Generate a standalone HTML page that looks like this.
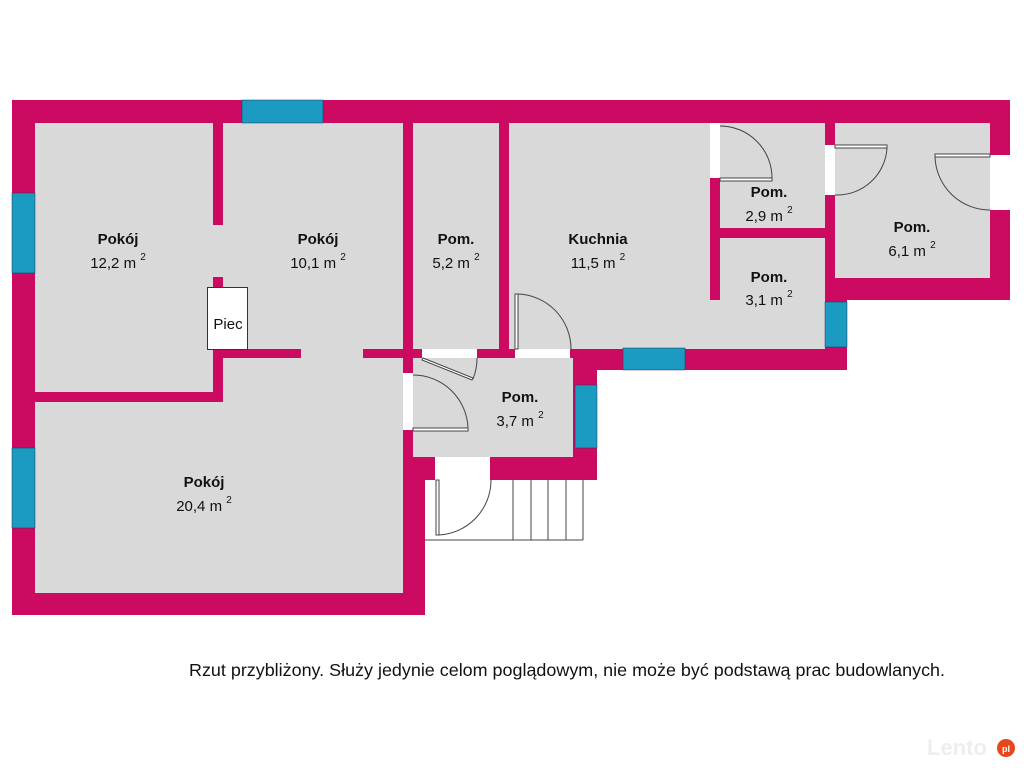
<!DOCTYPE html>
<html><head><meta charset="utf-8"><style>
html,body{margin:0;padding:0;background:#fff;}
svg text{font-family:"Liberation Sans",sans-serif;}
</style></head><body>
<svg width="1024" height="768" viewBox="0 0 1024 768" xmlns="http://www.w3.org/2000/svg">
<g fill="#cc0a62">
<rect x="12" y="100" width="998" height="23"/>
<rect x="825" y="100" width="185" height="200"/>
<rect x="12" y="100" width="23" height="515"/>
<rect x="12" y="593" width="413" height="22"/>
<rect x="403" y="100" width="22" height="515"/>
<rect x="403" y="100" width="194" height="380"/>
<rect x="403" y="100" width="444" height="270"/>
</g>
<g fill="#d9d9d9">
<rect x="35" y="123" width="368" height="470"/>
<rect x="413" y="123" width="86" height="226"/>
<rect x="509" y="123" width="316" height="226"/>
<rect x="835" y="123" width="155" height="155"/>
<rect x="413" y="358" width="160" height="99"/>
</g>
<g fill="#cc0a62">
<rect x="213" y="123" width="10" height="102"/>
<rect x="213" y="277" width="10" height="12"/>
<rect x="213" y="349" width="10" height="53"/>
<rect x="223" y="349" width="78" height="9"/>
<rect x="35" y="392" width="188" height="10"/>
<rect x="363" y="349" width="59" height="9"/>
<rect x="477" y="349" width="38" height="9"/>
<rect x="499" y="123" width="10" height="226"/>
<rect x="710" y="178" width="10" height="122"/>
<rect x="720" y="228" width="105" height="10"/>
<rect x="825" y="123" width="10" height="177"/>
<rect x="413" y="457" width="22" height="23"/>
<rect x="403" y="430" width="10" height="27"/>
<rect x="403" y="457" width="22" height="158"/>
</g>
<g fill="#fff">
<rect x="710" y="123" width="10" height="55"/>
<rect x="825" y="145" width="10" height="50"/>
<rect x="990" y="155" width="20" height="55"/>
<rect x="422" y="349" width="55" height="9"/>
<rect x="515" y="349" width="55" height="9"/>
<rect x="403" y="373" width="10" height="57"/>
<rect x="435" y="457" width="55" height="23"/>
<rect x="425" y="480" width="172" height="135"/>
<rect x="597" y="370" width="250" height="110"/>
</g>
<g fill="#1b9bc2" stroke="#235" stroke-width="0.5">
<rect x="242" y="100" width="81" height="23"/>
<rect x="12" y="193" width="23" height="80"/>
<rect x="12" y="448" width="23" height="80"/>
<rect x="623" y="348" width="62" height="22"/>
<rect x="575" y="385" width="22" height="63"/>
<rect x="825" y="302" width="22" height="45"/>
</g>
<g fill="none" stroke="#444" stroke-width="1">
<rect x="720" y="178" width="52" height="3" fill="#fff"/>
<path d="M720 126 A52 52 0 0 1 772 178"/>
<rect x="835" y="145" width="52" height="3" fill="#fff"/>
<path d="M887 148 A50 50 0 0 1 835 195"/>
<rect x="935" y="154" width="55" height="3" fill="#fff"/>
<path d="M935 157 A55 55 0 0 0 990 210"/>
<rect x="515" y="294" width="3" height="55" fill="#fff"/>
<path d="M518 294 A55 55 0 0 1 571 349"/>
<rect x="413" y="428" width="55" height="3" fill="#fff"/>
<path d="M413 375 A55 55 0 0 1 468 428"/>
<path d="M423 358 L473 378 L472 380 L422 360 Z" fill="#fff"/>
<path d="M477 358 A55 55 0 0 1 473 379"/>
<rect x="436" y="480" width="3" height="55" fill="#fff"/>
<path d="M439 535 A55 55 0 0 0 491 480"/>
<path d="M425 540 L583 540 M513 480 L513 540 M531 480 L531 540 M548 480 L548 540 M566 480 L566 540 M583 480 L583 540"/>
</g>
<rect x="207.5" y="287.5" width="40" height="62" fill="#fff" stroke="#333" stroke-width="1"/>
<text x="228" y="329" font-size="15" text-anchor="middle" fill="#111">Piec</text>
<g fill="#111" font-size="15" text-anchor="middle">
<text x="118" y="244" font-weight="bold">Pokój</text><text x="118" y="268">12,2 m <tspan font-size="10" dy="-8">2</tspan></text>
<text x="318" y="244" font-weight="bold">Pokój</text><text x="318" y="268">10,1 m <tspan font-size="10" dy="-8">2</tspan></text>
<text x="456" y="244" font-weight="bold">Pom.</text><text x="456" y="268">5,2 m <tspan font-size="10" dy="-8">2</tspan></text>
<text x="598" y="244" font-weight="bold">Kuchnia</text><text x="598" y="268">11,5 m <tspan font-size="10" dy="-8">2</tspan></text>
<text x="769" y="197" font-weight="bold">Pom.</text><text x="769" y="221">2,9 m <tspan font-size="10" dy="-8">2</tspan></text>
<text x="769" y="282" font-weight="bold">Pom.</text><text x="769" y="305">3,1 m <tspan font-size="10" dy="-8">2</tspan></text>
<text x="912" y="232" font-weight="bold">Pom.</text><text x="912" y="256">6,1 m <tspan font-size="10" dy="-8">2</tspan></text>
<text x="520" y="402" font-weight="bold">Pom.</text><text x="520" y="426">3,7 m <tspan font-size="10" dy="-8">2</tspan></text>
<text x="204" y="487" font-weight="bold">Pokój</text><text x="204" y="511">20,4 m <tspan font-size="10" dy="-8">2</tspan></text>
</g>
<text x="567" y="676" font-size="17.5" text-anchor="middle" fill="#111" textLength="756" lengthAdjust="spacingAndGlyphs">Rzut przybliżony. Służy jedynie celom poglądowym, nie może być podstawą prac budowlanych.</text>
<text x="927" y="755" font-size="22" font-weight="bold" fill="#eee">Lento</text>
<circle cx="1006" cy="748" r="9" fill="#e8461b"/>
<text x="1006" y="752" font-size="9" fill="#fff" text-anchor="middle" font-weight="bold">pl</text>
</svg>
</body></html>
